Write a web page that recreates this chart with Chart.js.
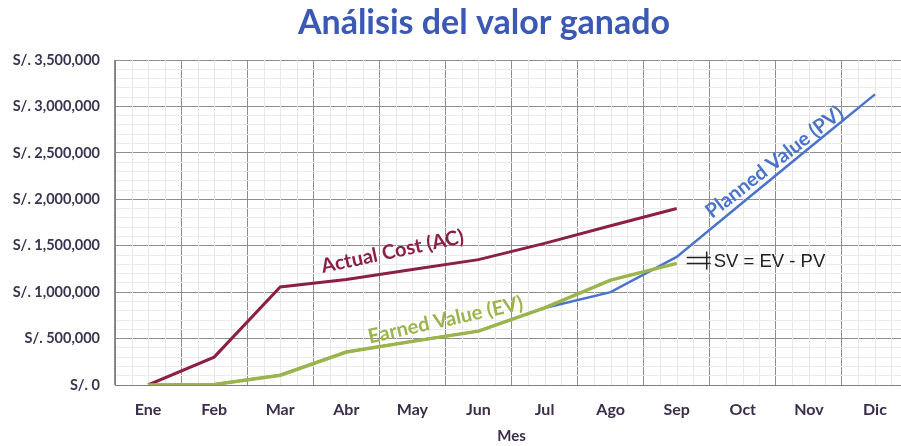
<!DOCTYPE html>
<html>
<head>
<meta charset="utf-8">
<script src="https://cdn.jsdelivr.net/npm/chart.js@4.4.1/dist/chart.umd.min.js"></script>
<style>
    html, body { margin: 0; padding: 0; background: #ffffff; overflow: hidden; }
    #grafico { display: block; }
</style>
</head>
<body>
<canvas id="grafico" width="910" height="446"></canvas>
<script>
// Datos
const meses = ['Ene', 'Feb', 'Mar', 'Abr', 'May', 'Jun', 'Jul', 'Ago', 'Sep', 'Oct', 'Nov', 'Dic'];
const valorGanado = [0, 5000, 105000, 355000, 470000, 580000, 830000, 1130000, 1310000, null, null, null];
const costoReal = [0, 300000, 1055000, 1135000, 1245000, 1350000, 1525000, 1715000, 1900000, null, null, null];
const valorPlaneado = [0, 5000, 105000, 355000, 470000, 580000, 830000, 1000000, 1380000, 1965000, 2550000, 3130000];

const colorEV = '#9bb54c';
const colorAC = '#8c1f45';
const colorPV = '#4a74cc';

// Etiquetas sobre las líneas (índice de mes, valor, ángulo en grados)
const anotaciones = [
    { texto: 'Actual Cost (AC)', indice: 3.7, valor: 1436000, angulo: -12, color: colorAC },
    { texto: 'Earned Value (EV)', indice: 4.5, valor: 700000, angulo: -12.5, color: colorEV },
    { texto: 'Planned Value (PV)', indice: 9.48, valor: 2400000, angulo: -38, color: colorPV }
];

function formatoSoles(v) {
    return 'S/. ' + Number(v).toLocaleString('en-US');
}

// Título, cuadrícula fina y anotaciones
const pluginDibujos = {
    id: 'dibujos',
    beforeDatasetsDraw(chart) {
        const { ctx, chartArea, scales } = chart;
        ctx.save();
        ctx.strokeStyle = '#e8e8e8';
        ctx.lineWidth = 1;
        for (let k = 0; k < meses.length; k++) {
            [-0.25, 0, 0.25].forEach(d => {
                const x = Math.round(scales.x.getPixelForValue(k + d)) + 0.5;
                ctx.beginPath();
                ctx.moveTo(x, chartArea.top);
                ctx.lineTo(x, chartArea.bottom);
                ctx.stroke();
            });
        }
        ctx.restore();
    },
    afterDatasetsDraw(chart) {
        const { ctx, scales } = chart;
        ctx.save();
        anotaciones.forEach(a => {
            const x = scales.x.getPixelForValue(a.indice);
            const y = scales.y.getPixelForValue(a.valor);
            ctx.save();
            ctx.translate(x, y);
            ctx.rotate(a.angulo * Math.PI / 180);
            ctx.font = 'bold 20px Lato';
            ctx.fillStyle = a.color;
            ctx.textAlign = 'center';
            ctx.textBaseline = 'middle';
            ctx.fillText(a.texto, 0, 0);
            ctx.restore();
        });

        // Corchete de SV en septiembre
        const xs = scales.x.getPixelForValue(8);
        const yPV = Math.round(scales.y.getPixelForValue(valorPlaneado[8])) + 0.5;
        const yEV = Math.round(scales.y.getPixelForValue(valorGanado[8])) + 0.5;
        ctx.strokeStyle = '#222222';
        ctx.lineWidth = 1.5;
        ctx.beginPath();
        ctx.moveTo(xs + 10, yPV); ctx.lineTo(xs + 34, yPV);
        ctx.moveTo(xs + 10, yEV); ctx.lineTo(xs + 34, yEV);
        ctx.moveTo(xs + 30, yPV - 6); ctx.lineTo(xs + 30, yEV + 6);
        ctx.stroke();
        ctx.font = '18.5px "Liberation Sans"';
        ctx.fillStyle = '#222222';
        ctx.textAlign = 'left';
        ctx.textBaseline = 'middle';
        ctx.fillText('SV = EV - PV', xs + 37, (yPV + yEV) / 2 + 1);

        // Título
        ctx.font = 'bold 34px Lato';
        ctx.fillStyle = '#3a58b4';
        ctx.textAlign = 'center';
        ctx.fillText('Análisis del valor ganado', 484, 23);
        ctx.restore();
    }
};

const ctx = document.getElementById('grafico').getContext('2d');
new Chart(ctx, {
    type: 'line',
    data: {
        labels: meses,
        datasets: [
            { label: 'Earned Value (EV)', data: valorGanado, borderColor: colorEV, borderWidth: 3.5 },
            { label: 'Actual Cost (AC)', data: costoReal, borderColor: colorAC, borderWidth: 3 },
            { label: 'Planned Value (PV)', data: valorPlaneado, borderColor: colorPV, borderWidth: 2.5 }
        ]
    },
    options: {
        responsive: false,
        animation: false,
        layout: { padding: { top: 60, right: 2, left: 0, bottom: 0 } },
        elements: {
            point: { radius: 0 },
            line: { tension: 0, fill: false }
        },
        scales: {
            x: {
                offset: true,
                grid: { offset: true, color: '#8e8e8e', drawTicks: false },
                border: { color: '#808080' },
                ticks: {
                    padding: 15,
                    color: '#3a2e4a',
                    font: { family: 'Lato', size: 16, weight: 'bold' }
                },
                title: {
                    display: true,
                    text: 'Mes',
                    color: '#3a2e4a',
                    padding: { top: 0, bottom: 1 },
                    font: { family: 'Lato', size: 15, weight: 'bold' }
                },
                afterFit(scale) { scale.height = 61; }
            },
            y: {
                min: 0,
                max: 3500000,
                grid: {
                    drawTicks: false,
                    color: c => (c.tick && c.tick.value % 500000 === 0) ? '#8e8e8e' : '#ebebeb'
                },
                border: { color: '#808080' },
                ticks: {
                    stepSize: 100000,
                    maxTicksLimit: 100,
                    autoSkip: false,
                    padding: 15,
                    color: '#3a3350',
                    font: { family: 'Lato', size: 14.5, weight: 'bold' },
                    callback: v => (v % 500000 === 0) ? formatoSoles(v) : ''
                },
                afterFit(scale) { scale.width = 115; }
            }
        },
        plugins: {
            legend: { display: false },
            tooltip: { enabled: false },
            title: { display: false }
        }
    },
    plugins: [pluginDibujos]
});
</script>
</body>
</html>
